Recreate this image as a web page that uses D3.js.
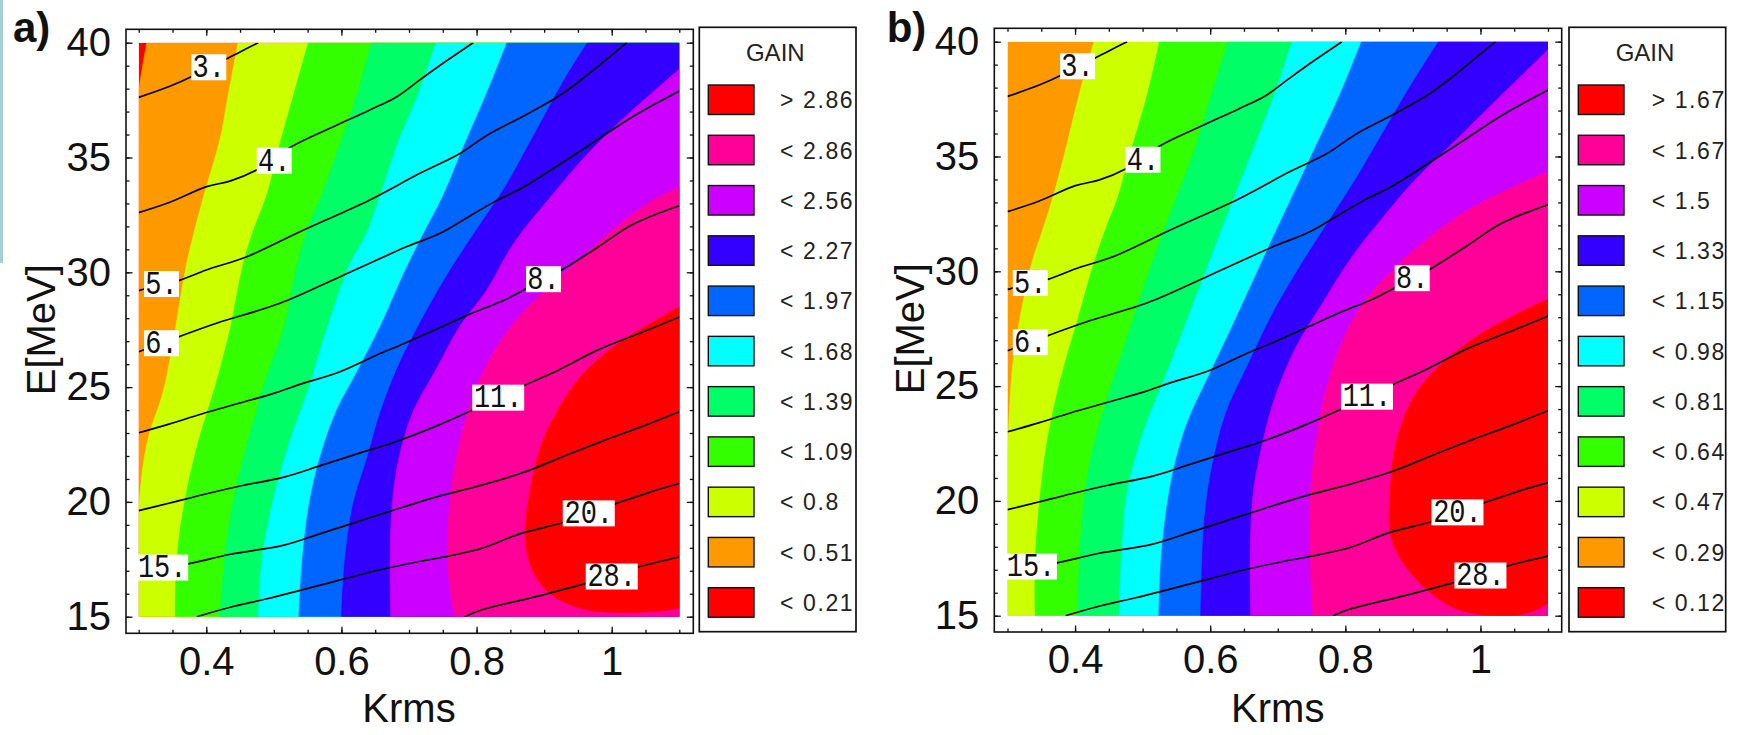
<!DOCTYPE html>
<html><head><meta charset="utf-8">
<script src="https://cdn.jsdelivr.net/npm/d3@7"></script>
<style>html,body{margin:0;padding:0;background:#fff;} svg{display:block}</style>
</head><body><svg id="chart" width="1738" height="735"></svg>
<script>
// ================= DATA =================
// band colours, lowest band first
const bandColors = ["#ff0000","#ff9900","#ccff00","#33ff00","#00ff66","#00ffff","#0066ff","#3300ff","#cc00ff","#ff0099","#ff0000"];
const legendLabelsA = ["> 2.86","< 2.86","< 2.56","< 2.27","< 1.97","< 1.68","< 1.39","< 1.09","< 0.8","< 0.51","< 0.21"];
const legendLabelsB = ["> 1.67","< 1.67","< 1.5","< 1.33","< 1.15","< 0.98","< 0.81","< 0.64","< 0.47","< 0.29","< 0.12"];
const krmsMajor = [0.4, 0.6, 0.8, 1.0];
const eMajor = [15, 20, 25, 30, 35, 40];
const panelLetters = ["a)", "b)"];

// contour lines of E vs Krms (points [Krms, E]) - identical in both panels
const contourNames = ["3.","4.","5.","6.","8.","11.","15.","20.","28."];
const contourLabelPos = [[0.4037,38.93],[0.5005,34.86],[0.3337,29.49],[0.3337,26.91],[0.899,29.7],[0.832,24.54],[0.3348,17.14],[0.966,19.5],[1.0,16.75]];
const line3  = [[0.3,37.62],[0.346,38.1],[0.38,38.55],[0.404,38.93],[0.427,39.25],[0.45,39.6],[0.477,40]];
const line4  = [[0.3,32.6],[0.346,33.05],[0.4006,33.73],[0.435,33.97],[0.4746,34.46],[0.526,35.47],[0.588,36.34],[0.642,37.07],[0.682,37.65],[0.716,38.38],[0.755,39.2],[0.795,40]];
const line5  = [[0.3,29.2],[0.3337,29.49],[0.361,29.66],[0.4,30.1],[0.46,30.68],[0.544,31.84],[0.642,33.15],[0.716,34.31],[0.774,35.15],[0.815,35.96],[0.869,36.8],[0.923,37.7],[0.964,38.6],[1.022,40]];
const line6  = [[0.3,26.54],[0.3337,26.91],[0.36,27.2],[0.415,27.78],[0.509,28.65],[0.598,29.81],[0.697,31.12],[0.746,31.7],[0.787,32.4],[0.828,33.1],[0.869,33.7],[0.93,34.84],[0.978,35.76],[1.032,36.8],[1.1,37.9]];
const line8  = [[0.3,23.01],[0.346,23.4],[0.393,23.83],[0.454,24.34],[0.502,24.75],[0.543,25.16],[0.597,25.66],[0.651,26.38],[0.692,26.89],[0.746,27.6],[0.8,28.3],[0.842,28.8],[0.899,29.7],[0.923,30.05],[0.978,31.07],[1.032,32.1],[1.1,32.9]];
const line11 = [[0.3,19.62],[0.346,19.95],[0.393,20.3],[0.447,20.67],[0.515,21.08],[0.57,21.59],[0.624,22.1],[0.678,22.6],[0.74,23.3],[0.794,24.0],[0.832,24.54],[0.869,25.05],[0.923,25.77],[0.978,26.6],[1.046,27.4],[1.1,28.05]];
const line15 = [[0.3,16.95],[0.3348,17.14],[0.373,17.3],[0.434,17.71],[0.515,18.12],[0.57,18.63],[0.624,19.14],[0.678,19.65],[0.746,20.26],[0.8,20.67],[0.869,21.28],[0.93,22.0],[0.991,22.7],[1.046,23.3],[1.1,23.93]];
const line20 = [[0.386,15],[0.434,15.4],[0.488,15.77],[0.543,16.18],[0.597,16.59],[0.651,17.0],[0.706,17.35],[0.76,17.65],[0.807,17.97],[0.866,18.63],[0.927,19.09],[0.966,19.5],[1.004,19.9],[1.059,20.45],[1.1,20.8]];
const line28 = [[0.782,15],[0.807,15.29],[0.8955,15.93],[0.962,16.45],[1.0,16.75],[1.038,17.15],[1.1,17.6]];
const contourLines = [line3, line4, line5, line6, line8, line11, line15, line20, line28];

// colour-band boundaries, panel a (index i separates band i from band i+1; higher band lies to the lower right)
const boundariesA = [
  [[0.312,40],[0.307,39.2],[0.3,37.95]],
  [[0.447,40],[0.433,37.8],[0.42,35.76],[0.396,33.3],[0.371,30.39],[0.354,27.49],[0.338,25],[0.33,24.2],[0.316,23],[0.306,21.5],[0.3,19.7]],
  [[0.551,40],[0.53,37.8],[0.509,35.6],[0.49,33.4],[0.47,31.84],[0.455,30.39],[0.435,27.49],[0.413,25],[0.39,22.8],[0.372,20.6],[0.36,18.5],[0.355,16.7],[0.354,15]],
  [[0.644,40],[0.624,37.8],[0.6,35.76],[0.57,33.3],[0.549,31.84],[0.532,30],[0.514,27.49],[0.49,25.5],[0.466,23.1],[0.444,20.6],[0.429,18],[0.42,15]],
  [[0.74,40],[0.712,37.65],[0.685,35.76],[0.657,33.3],[0.634,31.5],[0.613,30.4],[0.578,27.49],[0.552,25],[0.522,22.5],[0.497,19.85],[0.482,17.4],[0.477,15]],
  [[0.845,40],[0.815,37.8],[0.782,35.55],[0.75,33.3],[0.72,31.6],[0.69,29.8],[0.66,27.8],[0.625,25.77],[0.592,23.93],[0.568,21.9],[0.552,19.85],[0.542,17.4],[0.537,15]],
  [[0.964,40],[0.93,38.4],[0.889,36.2],[0.842,33.7],[0.801,31.9],[0.76,30.05],[0.72,28.0],[0.685,25.97],[0.658,23.93],[0.638,21.9],[0.617,19.85],[0.605,17.4],[0.6,15]],
  [[1.1,38.85],[1.059,37.8],[1.012,36.57],[0.964,35.15],[0.91,33.3],[0.855,31.27],[0.815,29.23],[0.774,27.6],[0.74,25.77],[0.706,23.93],[0.685,21.9],[0.675,19.85],[0.672,17.4],[0.673,15]],
  [[1.1,33.7],[1.059,33.1],[1.012,32.1],[0.964,30.86],[0.91,29.44],[0.855,27.8],[0.815,25.97],[0.787,23.93],[0.77,21.9],[0.76,19.85],[0.757,17.4],[0.767,15]],
  [[1.1,28.5],[1.059,27.8],[1.005,26.8],[0.957,25.56],[0.923,24.14],[0.896,22.5],[0.879,20.47],[0.872,18.43],[0.883,17.0],[0.91,15.98],[0.964,15.3],[1.06,15.22],[1.085,15.3],[1.1,15.39]]
];
// panel b (lowest band absent)
const boundariesB = [
  null,
  [[0.428,40],[0.406,37.7],[0.384,35.06],[0.366,33.1],[0.352,31.8],[0.336,30.36],[0.318,27.9],[0.308,26],[0.303,24],[0.3,21.8]],
  [[0.525,40],[0.507,37.7],[0.481,35.06],[0.462,33.1],[0.45,32.2],[0.428,30.36],[0.404,27.9],[0.38,25.45],[0.36,22.8],[0.348,20.15],[0.341,17.3],[0.341,15]],
  [[0.626,40],[0.602,37.7],[0.574,35.06],[0.542,32.6],[0.509,29.95],[0.477,27.1],[0.445,24.23],[0.42,21.4],[0.408,18.3],[0.404,15]],
  [[0.721,40],[0.695,37.7],[0.663,35.26],[0.63,32.8],[0.598,30.36],[0.566,27.9],[0.534,25.45],[0.501,23.0],[0.477,20.35],[0.469,17.7],[0.465,15]],
  [[0.824,40],[0.792,37.7],[0.76,35.67],[0.727,33.6],[0.695,31.6],[0.663,29.54],[0.631,27.5],[0.598,25.45],[0.566,23.4],[0.546,21.37],[0.534,19.33],[0.527,17.3],[0.524,15]],
  [[0.938,40],[0.897,38.1],[0.857,36.1],[0.816,34.04],[0.776,32.2],[0.736,30.36],[0.695,28.3],[0.655,25.87],[0.623,23.8],[0.602,21.37],[0.592,19.33],[0.588,17.3],[0.586,15]],
  [[1.1,39.65],[1.067,38.7],[1.018,37.3],[0.962,35.67],[0.905,34.04],[0.857,32.4],[0.808,30.56],[0.768,28.7],[0.727,26.7],[0.695,24.44],[0.675,22.2],[0.663,20.15],[0.659,17.3],[0.66,15]],
  [[1.1,34.34],[1.043,33.6],[0.978,32.6],[0.921,31.4],[0.873,30.15],[0.824,28.5],[0.792,26.7],[0.768,24.44],[0.756,22.4],[0.748,20.15],[0.748,17.3],[0.752,15]],
  [[1.1,28.8],[1.051,28.1],[1.002,27.3],[0.954,26.27],[0.913,25.05],[0.889,23.8],[0.873,22.2],[0.866,20.15],[0.867,18.5],[0.885,17.32],[0.92,16.16],[0.955,15.43],[0.994,15.07],[1.06,15.05],[1.085,15.3],[1.1,15.55]]
];

// ================= DRAWING =================
const SANS = "'Liberation Sans', Arial, Helvetica, sans-serif";
const MONO = "'Liberation Mono', 'Courier New', monospace";
const svg = d3.select("#chart");

// slide border remnant at far left
svg.append("rect").attr("x",0).attr("y",0).attr("width",3).attr("height",263).attr("fill","#a6ced5");

const panels = [
  {frame:{l:126,t:29.3,r:693.3,b:633.3}, data:{l:138.7,r:679.3,t:42.7,b:616.7}, bounds:boundariesA, labels:legendLabelsA,
   legendX:699.3, swX:708.3, txX:780, letterX:13, eLabelX:55},
  {frame:{l:994.3,t:28.3,r:1561.7,b:632}, data:{l:1007.5,r:1548,t:41.7,b:615.7}, bounds:boundariesB, labels:legendLabelsB,
   legendX:1569, swX:1578.3, txX:1651.7, letterX:886.7, eLabelX:923.5}
];

const DOMX = [0.3, 1.1], DOMY = [15, 40];
function perim(p){
  const [k,e] = p, eps = 1e-6;
  if (Math.abs(e-DOMY[1])<eps) return (k-DOMX[0])/(DOMX[1]-DOMX[0]);
  if (Math.abs(k-DOMX[1])<eps) return 1+(DOMY[1]-e)/(DOMY[1]-DOMY[0]);
  if (Math.abs(e-DOMY[0])<eps) return 2+(DOMX[1]-k)/(DOMX[1]-DOMX[0]);
  return 3+(e-DOMY[0])/(DOMY[1]-DOMY[0]);
}
const cornerList = [[1,[DOMX[1],DOMY[1]]],[2,[DOMX[1],DOMY[0]]],[3,[DOMX[0],DOMY[0]]]];

panels.forEach((P, pi) => {
  const x = d3.scaleLinear().domain(DOMX).range([P.data.l, P.data.r]);
  const y = d3.scaleLinear().domain(DOMY).range([P.data.b, P.data.t]);
  const g = svg.append("g");
  const clipId = "clip"+pi;
  g.append("clipPath").attr("id",clipId).append("rect")
    .attr("x",x(DOMX[0])).attr("y",y(DOMY[1])).attr("width",x(DOMX[1])-x(DOMX[0])).attr("height",y(DOMY[0])-y(DOMY[1]));
  const plot = g.append("g").attr("clip-path",`url(#${clipId})`);
  const line = d3.line().x(d=>x(d[0])).y(d=>y(d[1])).curve(d3.curveCatmullRom.alpha(0.5));

  // base band
  const first = P.bounds.findIndex(b=>b);
  plot.append("rect").attr("x",x(DOMX[0])).attr("y",y(DOMY[1]))
    .attr("width",x(DOMX[1])-x(DOMX[0])).attr("height",y(DOMY[0])-y(DOMY[1]))
    .attr("fill",bandColors[first]);
  P.bounds.forEach((pts,i)=>{
    if(!pts) return;
    const ts = perim(pts[0]), te = perim(pts[pts.length-1]);
    const corners = cornerList.filter(c=>c[0]>ts && c[0]<te).sort((a,b)=>b[0]-a[0]).map(c=>c[1]);
    const dPath = line(pts) + corners.map(c=>`L${x(c[0])},${y(c[1])}`).join("") + "Z";
    plot.append("path").attr("d",dPath).attr("fill",bandColors[i+1]).attr("stroke",bandColors[i+1]).attr("stroke-width",0.6);
  });

  // contour lines
  plot.selectAll("path.cl").data(contourLines).join("path").attr("class","cl")
    .attr("d",d=>line(d)).attr("fill","none").attr("stroke","#000").attr("stroke-width",1.7);

  // contour labels
  const lab = g.selectAll("g.lab").data(contourNames).join("g").attr("class","lab")
    .attr("transform",(d,i)=>`translate(${x(contourLabelPos[i][0])},${y(contourLabelPos[i][1])})`);
  lab.append("rect").attr("x",d=>-(d.length*17+1)/2).attr("y",-13).attr("width",d=>d.length*17+1).attr("height",26).attr("fill","#fff");
  lab.append("text").attr("transform","translate(0,9.8) scale(1,1.22)").attr("text-anchor","middle")
    .attr("font-family",MONO).attr("font-size",27).attr("fill","#111").text(d=>d);

  // frame
  g.append("rect").attr("x",P.frame.l).attr("y",P.frame.t).attr("width",P.frame.r-P.frame.l).attr("height",P.frame.b-P.frame.t)
    .attr("fill","none").attr("stroke","#111").attr("stroke-width",1.6);

  const style = sel => { sel.select(".domain").remove(); sel.selectAll("line").attr("stroke","#111").attr("stroke-width",1.3);
    sel.attr("font-family",SANS).attr("font-size",40); sel.selectAll("text").attr("fill","#111"); };
  const xf = d => d===1 ? "1" : d3.format(".1f")(d);
  // minor ticks
  g.append("g").attr("transform",`translate(0,${P.frame.b})`).call(d3.axisBottom(x).tickValues(x.ticks(16)).tickSize(-3.5).tickFormat("")).call(style);
  g.append("g").attr("transform",`translate(0,${P.frame.t})`).call(d3.axisTop(x).tickValues(x.ticks(16)).tickSize(-3.5).tickFormat("")).call(style);
  g.append("g").attr("transform",`translate(${P.frame.l},0)`).call(d3.axisLeft(y).tickValues(y.ticks(25)).tickSize(-3.5).tickFormat("")).call(style);
  g.append("g").attr("transform",`translate(${P.frame.r},0)`).call(d3.axisRight(y).tickValues(y.ticks(25)).tickSize(-3.5).tickFormat("")).call(style);
  // major ticks
  g.append("g").attr("transform",`translate(0,${P.frame.b})`).call(d3.axisBottom(x).tickValues(krmsMajor).tickSize(-6.5).tickPadding(13).tickFormat(xf)).call(style);
  g.append("g").attr("transform",`translate(0,${P.frame.t})`).call(d3.axisTop(x).tickValues(krmsMajor).tickSize(-6.5).tickFormat("")).call(style);
  g.append("g").attr("transform",`translate(${P.frame.l},0)`).call(d3.axisLeft(y).tickValues(eMajor).tickSize(-6.5).tickPadding(15).tickFormat(d3.format("d"))).call(style);
  g.append("g").attr("transform",`translate(${P.frame.r},0)`).call(d3.axisRight(y).tickValues(eMajor).tickSize(-6.5).tickFormat("")).call(style);

  // axis titles
  g.append("text").attr("x",(P.data.l+P.data.r)/2).attr("y",722).attr("text-anchor","middle")
    .attr("font-family",SANS).attr("font-size",40).attr("fill","#111").text("Krms");
  g.append("text").attr("transform",`translate(${P.eLabelX},${(P.data.t+P.data.b)/2}) rotate(-90)`).attr("text-anchor","middle")
    .attr("font-family",SANS).attr("font-size",40).attr("fill","#111").text("E[MeV]");
  g.append("text").attr("x",P.letterX).attr("y",42).attr("font-family",SANS).attr("font-weight","bold")
    .attr("font-size",42).attr("fill","#111").text(panelLetters[pi]);

  // legend
  const L = g.append("g");
  const lw = 156.7, lt = 27.3, lb = 631.7;
  const lclip = "lclip"+pi;
  L.append("clipPath").attr("id",lclip).append("rect").attr("x",P.legendX).attr("y",lt).attr("width",lw).attr("height",lb-lt);
  L.append("rect").attr("x",P.legendX).attr("y",lt).attr("width",lw).attr("height",lb-lt).attr("fill","#fff").attr("stroke","#111").attr("stroke-width",1.7);
  L.append("text").attr("x",P.legendX+76).attr("y",61).attr("text-anchor","middle").attr("font-family",SANS).attr("font-size",24).attr("fill","#222").text("GAIN");
  const legColors = bandColors.slice().reverse();
  const ly = d3.scaleLinear().domain([0,10]).range([85,587.7]);
  L.selectAll("rect.sw").data(P.labels).join("rect").attr("class","sw")
    .attr("x",P.swX).attr("y",(d,i)=>ly(i)).attr("width",45.7).attr("height",29.5)
    .attr("fill",(d,i)=>legColors[i]).attr("stroke","#111").attr("stroke-width",1.4);
  L.append("g").attr("clip-path",`url(#${lclip})`).selectAll("text").data(P.labels).join("text")
    .attr("x",P.txX).attr("y",(d,i)=>ly(i)+15+8.3).attr("font-family",SANS).attr("font-size",23)
    .attr("letter-spacing",1.6).attr("fill","#222").text(d=>d);
});
</script></body></html>
